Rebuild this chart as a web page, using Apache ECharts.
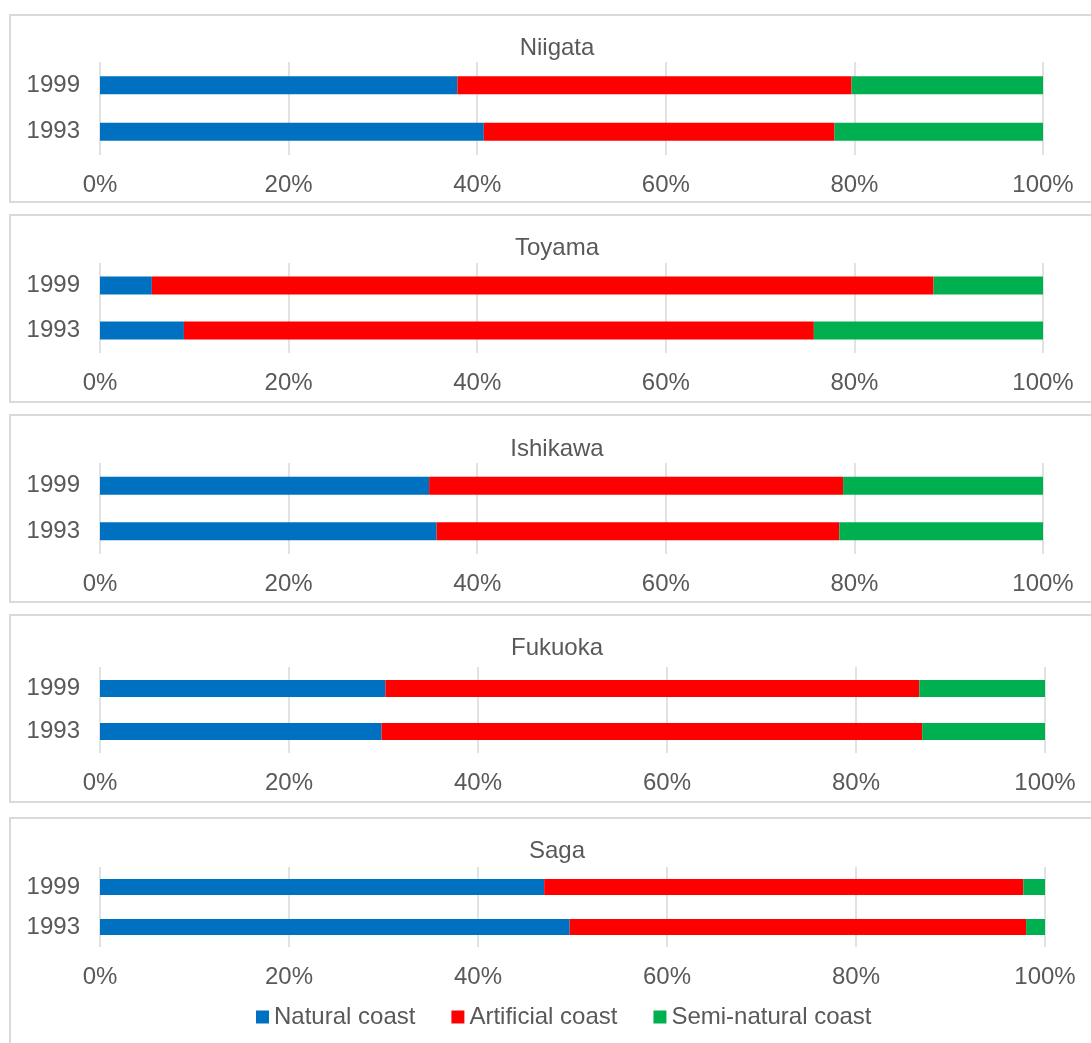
<!DOCTYPE html>
<html>
<head>
<meta charset="utf-8">
<script src="https://cdn.jsdelivr.net/npm/echarts@6/dist/echarts.min.js"></script>
<style>
  html, body { margin: 0; padding: 0; background: #fff; }
  #wrap { position: relative; width: 1091px; height: 1043px; overflow: hidden; }
  .frame { position: absolute; left: 9px; width: 1100px; border: 2px solid #d9d9d9; box-sizing: border-box; }
  #chart { position: absolute; left: 0; top: 0; width: 1091px; height: 1043px; }
</style>
</head>
<body>
<div id="wrap">
  <div class="frame" style="top:14px;height:189px"></div>
  <div class="frame" style="top:214px;height:189px"></div>
  <div class="frame" style="top:414px;height:189px"></div>
  <div class="frame" style="top:614px;height:189px"></div>
  <div class="frame" style="top:817px;height:240px"></div>
  <div id="chart"></div>
</div>
<script>
// categories (bottom to top) and panels
const years = ['1993', '1999'];
const prefectures = ['Niigata', 'Toyama', 'Ishikawa', 'Fukuoka', 'Saga'];
const seriesNames = ['Natural coast', 'Artificial coast', 'Semi-natural coast'];
const xTicks = [0, 20, 40, 60, 80, 100];

// share of coastline (%), [1993, 1999] for each prefecture
const natural = [[40.7, 37.9], [8.9, 5.5], [35.7, 34.9], [29.8, 30.2], [49.7, 47.0]];
const artificial = [[37.2, 41.8], [66.8, 82.9], [42.7, 43.9], [57.2, 56.5], [48.3, 50.7]];
const seminatural = [[22.1, 20.3], [24.3, 11.6], [21.6, 21.2], [13.0, 13.3], [2.0, 2.3]];

const colors = ['#0070c0', '#ff0000', '#00b050'];
const textColor = '#595959';
const font = 'Liberation Sans, Arial, sans-serif';
const fs = 24;

// panel layout
const gridTop = [62, 263, 463, 667, 867];
const gridHeight = [93, 90, 91, 86, 80];
const gridRight = [48, 48, 48, 46, 46];
const titleY = [48, 248, 449, 648, 851];
const barW = [18, 18, 18, 17, 16];

const chart = echarts.init(document.getElementById('chart'));

const grids = [], xAxes = [], yAxes = [], titles = [], series = [];
const allData = [natural, artificial, seminatural];

prefectures.forEach((name, i) => {
  titles.push({
    text: name,
    left: 557,
    top: titleY[i],
    padding: 0,
    textAlign: 'center',
    textVerticalAlign: 'middle',
    textStyle: { color: textColor, fontSize: fs, fontWeight: 'normal', fontFamily: font }
  });
  grids.push({ left: 100, right: gridRight[i], top: gridTop[i], height: gridHeight[i], containLabel: false });
  xAxes.push({
    gridIndex: i,
    type: 'value',
    min: xTicks[0],
    max: xTicks[xTicks.length - 1],
    interval: 20,
    axisLine: { show: false },
    axisTick: { show: false },
    axisLabel: { color: textColor, fontSize: fs, fontFamily: font, margin: 18, formatter: '{value}%' },
    splitLine: { show: true, lineStyle: { color: '#d9d9d9', width: 1.5 } }
  });
  yAxes.push({
    gridIndex: i,
    type: 'category',
    data: years,
    axisLine: { show: false },
    axisTick: { show: false },
    axisLabel: { color: textColor, fontSize: fs, fontFamily: font, margin: 20 }
  });
  seriesNames.forEach((sName, k) => {
    series.push({
      name: sName,
      type: 'bar',
      stack: 'p' + i,
      xAxisIndex: i,
      yAxisIndex: i,
      barWidth: barW[i],
      itemStyle: { color: colors[k] },
      emphasis: { disabled: true },
      data: allData[k][i]
    });
  });
});

chart.setOption({
  animation: false,
  color: colors,
  title: titles,
  grid: grids,
  xAxis: xAxes,
  yAxis: yAxes,
  legend: {
    data: seriesNames,
    left: 256,
    top: 1005,
    padding: 0,
    itemWidth: 13,
    itemHeight: 13,
    itemGap: 36,
    icon: 'rect',
    textStyle: { color: textColor, fontSize: fs, fontFamily: font }
  },
  series: series
});
</script>
</body>
</html>
